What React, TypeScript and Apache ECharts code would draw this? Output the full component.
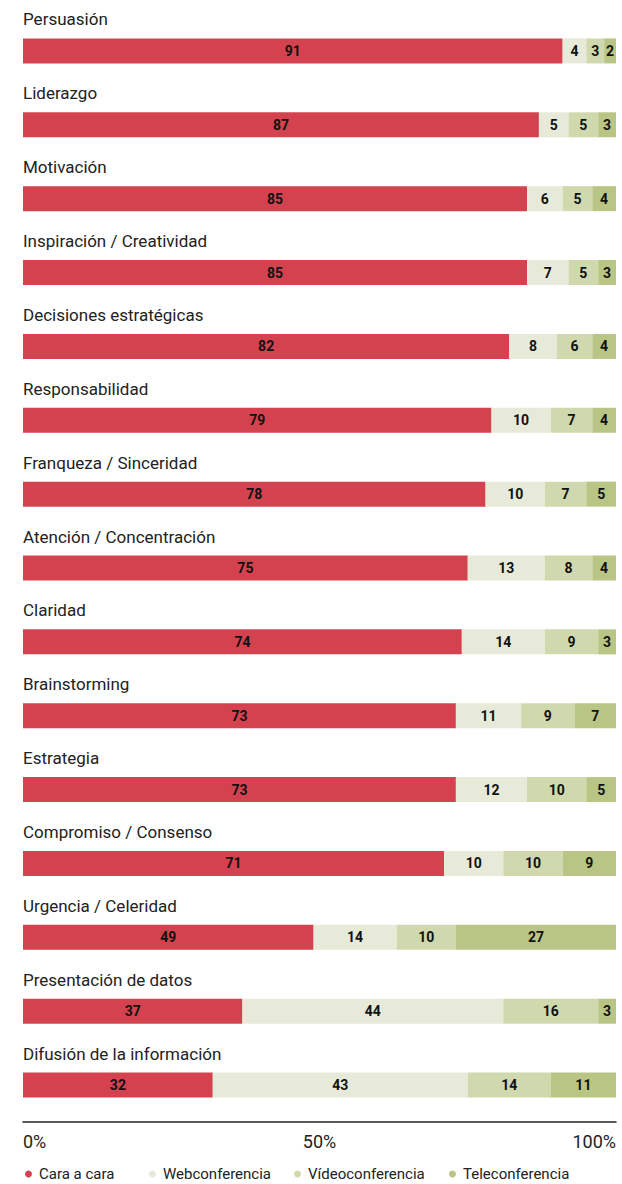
import React, { useEffect, useRef } from "react";
import * as echarts from "echarts";

const categories = [
  "Persuasión",
  "Liderazgo",
  "Motivación",
  "Inspiración / Creatividad",
  "Decisiones estratégicas",
  "Responsabilidad",
  "Franqueza / Sinceridad",
  "Atención / Concentración",
  "Claridad",
  "Brainstorming",
  "Estrategia",
  "Compromiso / Consenso",
  "Urgencia / Celeridad",
  "Presentación de datos",
  "Difusión de la información",
];

const caraACara = [91, 87, 85, 85, 82, 79, 78, 75, 74, 73, 73, 71, 49, 37, 32];
const webconferencia = [4, 5, 6, 7, 8, 10, 10, 13, 14, 11, 12, 10, 14, 44, 43];
const videoconferencia = [3, 5, 5, 5, 6, 7, 7, 8, 9, 9, 10, 10, 10, 16, 14];
const teleconferencia = [2, 3, 4, 3, 4, 4, 5, 4, 3, 7, 5, 9, 27, 3, 11];

const seriesNames = ["Cara a cara", "Webconferencia", "Vídeoconferencia", "Teleconferencia"];
const seriesColors = ["#D4424F", "#E7EAD8", "#D0D8AE", "#B9C584"];
const seriesData = [caraACara, webconferencia, videoconferencia, teleconferencia];
const legendLefts = [25, 149, 294, 449];

const FONT = "Roboto, 'Noto Sans', sans-serif";

export default function App() {
  const ref = useRef<HTMLDivElement>(null);

  useEffect(() => {
    if (!ref.current) return;
    const chart = echarts.init(ref.current, undefined, { renderer: "svg" });
    chart.setOption({
      animation: false,
      textStyle: { fontFamily: FONT },
      legend: seriesNames.map((name, i) => ({
        left: legendLefts[i],
        top: 1166,
        icon: "circle",
        itemWidth: 7,
        itemHeight: 7,
        padding: 0,
        selectedMode: false,
        textStyle: {
          fontSize: 15,
          lineHeight: 16,
          color: "#222",
          fontFamily: FONT,
          padding: [0, 0, 0, 2],
        },
        data: [name],
      })),
      grid: { left: 23, right: 6, top: 14, height: 1108 },
      xAxis: {
        type: "value",
        min: 0,
        max: 100,
        interval: 50,
        axisLine: { show: true, lineStyle: { color: "#222", width: 1.5 } },
        axisTick: { show: false },
        splitLine: { show: false },
        axisLabel: {
          formatter: "{value}%",
          fontSize: 18,
          color: "#222",
          margin: 10,
          alignMinLabel: "left",
          alignMaxLabel: "right",
          fontFamily: FONT,
        },
      },
      yAxis: {
        type: "category",
        data: categories,
        inverse: true,
        axisLine: { show: false },
        axisTick: { show: false },
        splitLine: { show: false },
        axisLabel: {
          inside: true,
          margin: 0,
          align: "left",
          verticalAlign: "bottom",
          padding: [0, 0, 23, 0],
          fontSize: 17,
          color: "#222",
          fontFamily: FONT,
        },
      },
      series: seriesNames.map((name, i) => ({
        name,
        type: "bar",
        stack: "total",
        barWidth: 25,
        data: seriesData[i],
        itemStyle: { color: seriesColors[i] },
        label: {
          show: true,
          position: "inside",
          fontSize: 14,
          fontWeight: "bold",
          color: "#111",
          fontFamily: FONT,
        },
      })),
    });
    return () => chart.dispose();
  }, []);

  return (
    <div
      ref={ref}
      style={{ position: "absolute", left: 0, top: 0, width: 622, height: 1184 }}
    />
  );
}
